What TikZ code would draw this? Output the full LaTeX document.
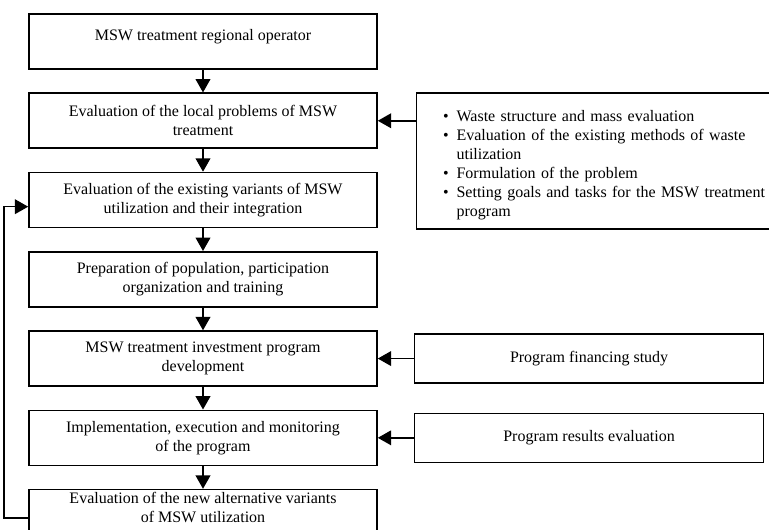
\documentclass[tikz,border=0pt]{standalone}
\usepackage{fontspec}
\setmainfont{Liberation Serif}
\usepackage{enumitem}
\usetikzlibrary{arrows.meta,positioning}

\begin{document}
\begin{tikzpicture}[x=0.75pt, y=-0.75pt,
        node distance=17pt,
        >={Triangle[length=10pt,width=11pt]},
        line width=1.2pt]
        \tikzset{
                basic/.style = {draw, line width=1.2pt, rectangle,
                                font=\fontsize{12pt}{14.25pt}\selectfont},
                stage/.style = {basic, align=center, minimum width=261pt,
                                minimum height=41.25pt, inner sep=2pt},
                side/.style  = {basic, align=center, minimum width=261.75pt,
                                minimum height=36.75pt},
                note/.style  = {basic, align=left, text width=255pt,
                                minimum height=102pt, inner xsep=18.75pt}
        }
        \useasboundingbox (0,0) rectangle (769,530);

        % main chain of stages
        \node[stage] (b1) at (203,41.5) {MSW treatment regional operator\\[-4pt]\mbox{}};
        \node[stage, below=of b1] (b2) {Evaluation of the local problems of MSW\\treatment};
        \node[stage, below=of b2] (b3) {Evaluation of the existing variants of MSW\\utilization and their integration};
        \node[stage, below=of b3] (b4) {Preparation of population, participation\\organization and training};
        \node[stage, below=of b4] (b5) {MSW treatment investment program\\development};
        \node[stage, below=of b5] (b6) {Implementation, execution and monitoring\\of the program};
        \node[stage, below=of b6] (b7) {Evaluation of the new alternative variants\\of MSW utilization\\\mbox{}};

        % inputs on the right
        \node[note, below right=0pt and 28.5pt of b2.north east] (tasks) {%
                \begin{itemize}[nosep, leftmargin=11.25pt, labelsep=6pt]
                        \item Waste structure and mass evaluation
                        \item Evaluation of the existing methods of waste\newline utilization
                        \item Formulation of the problem
                        \item Setting goals and tasks for the MSW treatment\newline program
                \end{itemize}};
        \node[side, right=27pt of b5] (fin) {Program financing study};
        \node[side, right=27pt of b6] (res) {Program results evaluation};

        % arrows down the chain
        \foreach \a/\b in {b1/b2, b2/b3, b3/b4, b4/b5, b5/b6, b6/b7}
                \draw[->] (\a) -- (\b);

        % arrows from the right
        \draw[->] (tasks.west |- b2.east) -- (b2.east);
        \draw[->] (fin.west) -- (fin.west -| b5.east);
        \draw[->] (res.west) -- (res.west -| b6.east);

        % feedback loop
        \draw[->] (b7.north west) ++(0,29) coordinate (fb) -- ++(-24,0) |- ([yshift=-5pt]b3.west);
\end{tikzpicture}
\end{document}
